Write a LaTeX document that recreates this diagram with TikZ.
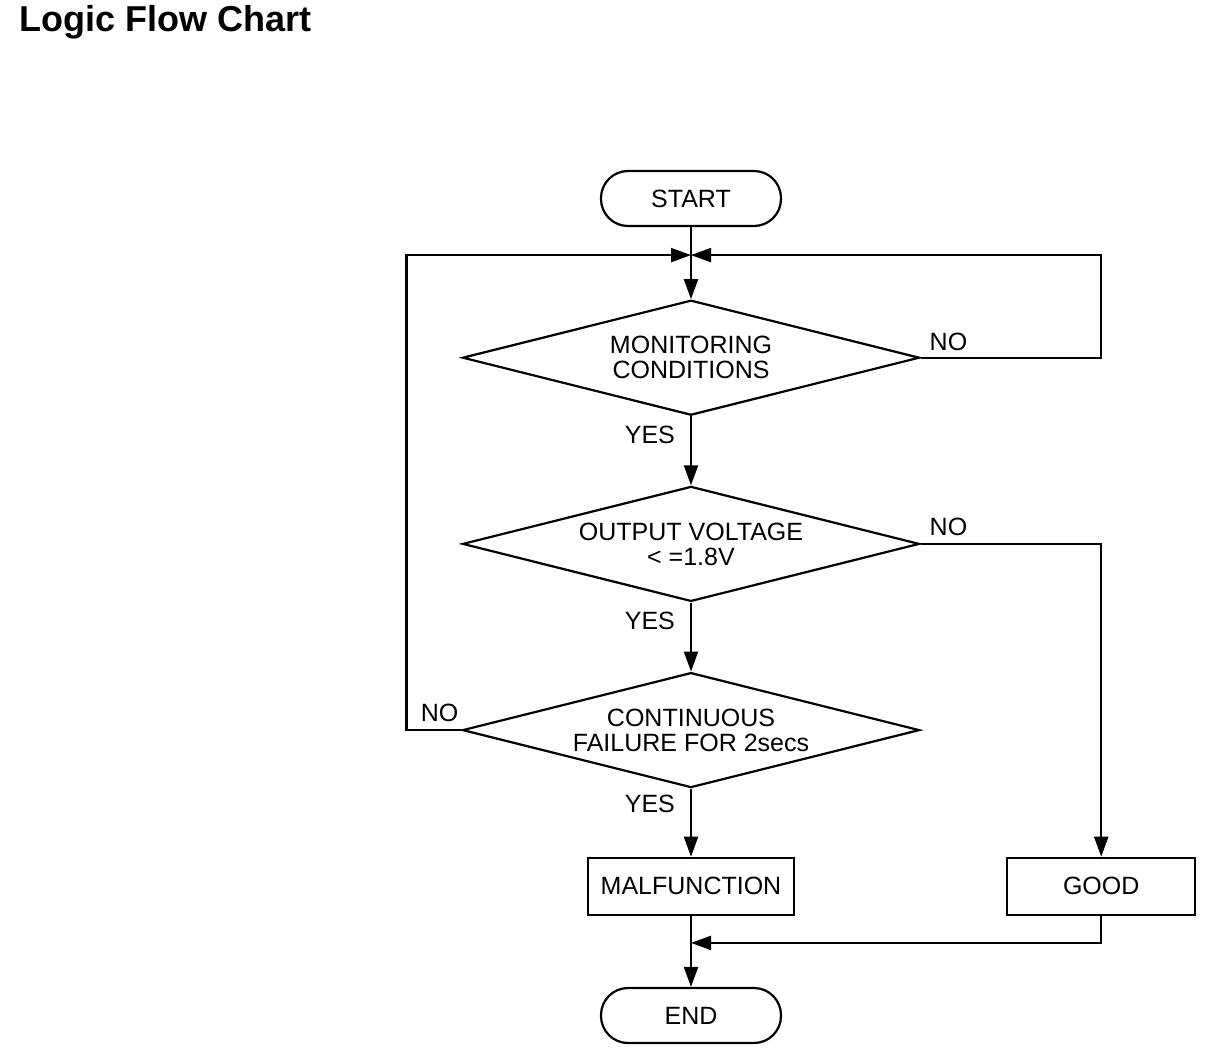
\documentclass[tikz,border=0pt]{standalone}
\usepackage{fontspec}
\setmainfont{Liberation Sans}
\usetikzlibrary{arrows.meta,shapes.geometric,positioning}
\tikzstyle{terminal}=[rectangle,rounded corners=27pt,draw=black,line width=2.2pt,minimum width=180pt,minimum height=55pt,font=\fontsize{25}{25}\selectfont]
\tikzstyle{decision}=[diamond,aspect=4,draw=black,line width=2.2pt,inner sep=0pt,minimum width=457pt,minimum height=115pt,align=center,font=\fontsize{25}{25}\selectfont]
\tikzstyle{process}=[rectangle,draw=black,line width=2.2pt,minimum height=57pt,font=\fontsize{25}{25}\selectfont]
\tikzstyle{answer}=[inner sep=2pt,font=\fontsize{25}{25}\selectfont]

\begin{document}
\begin{tikzpicture}[x=1pt,y=-1pt,>={Triangle[length=20pt,width=14pt]},line width=2.2pt]
    \useasboundingbox (0,0) rectangle (1216,1058);
    \node[anchor=north west,inner sep=0pt,font=\fontsize{36}{40}\selectfont\bfseries](title) at (18,4){Logic Flow Chart};

    \node[terminal](start) at (691,198.5){START};
    \node[decision](mon)[below=72pt of start]{MONITORING\\CONDITIONS};
    \node[decision](volt)[below=69pt of mon]{OUTPUT VOLTAGE\\< =1.8V};
    \node[decision](cont)[below=69pt of volt]{CONTINUOUS\\FAILURE FOR 2secs};
    \node[process, minimum width=206pt](malf)[below=68pt of cont]{MALFUNCTION};
    \node[process, minimum width=188pt](good)[right=211pt of malf]{GOOD};
    \node[terminal](end)[below=71pt of malf]{END};

    \coordinate[below=28pt of start](join);
    \coordinate[below=27pt of malf](merge);

    \node[answer](mon_no)[above right=4pt and 6pt of mon.east]{NO};
    \node[answer](mon_yes)[below left=6.5pt and 13pt of mon.south]{YES};
    \node[answer](volt_no)[above right=5.5pt and 6pt of volt.east]{NO};
    \node[answer](volt_yes)[below left=6.5pt and 13pt of volt.south]{YES};
    \node[answer](cont_no)[above left=5.5pt and 0pt of cont.west]{NO};
    \node[answer](cont_yes)[below left=3.5pt and 13pt of cont.south]{YES};

    \draw[->](start.south) -- (mon.north);
    \draw[->](mon.south) -- (volt.north);
    \draw[->](volt.south) -- (cont.north);
    \draw[->](cont.south) -- (malf.north);
    \draw[->](malf.south) -- (end.north);
    \draw[->](mon.east) -- (mon.east -| good.north) |- (join);
    \draw[->](cont.west) -- ++(-55,0) |- (join);
    \draw[->](volt.east) -| (good.north);
    \draw[->](good.south) |- (merge);
  \end{tikzpicture}
\end{document}
